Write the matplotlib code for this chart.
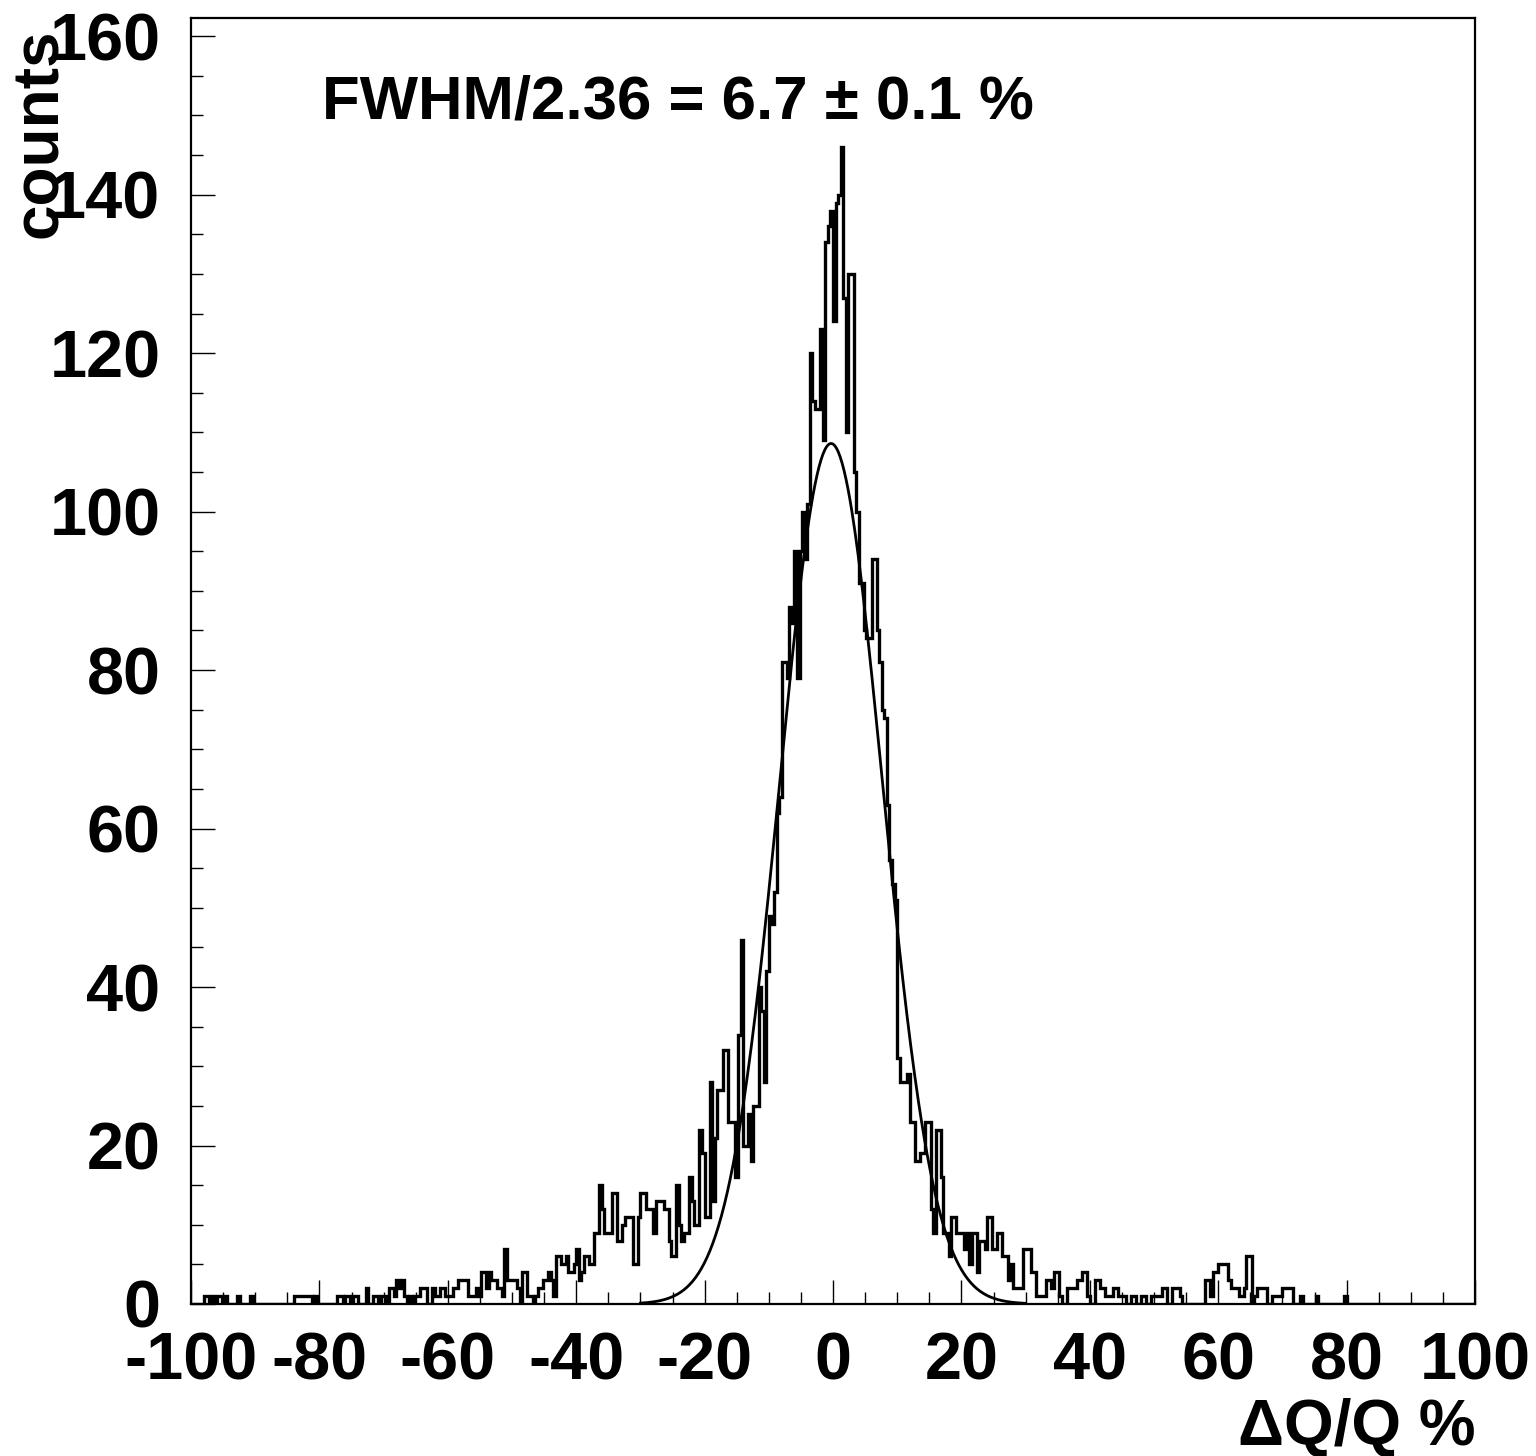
import numpy as np
import matplotlib
matplotlib.use('Agg')
from matplotlib import pyplot as plt
from matplotlib.ticker import MultipleLocator

# histogram: 500 bins from -100 to 100 (bin width 0.4)
x_min, x_max = -100., 100.
counts = [
    0, 0, 0, 0, 0, 1, 1, 0, 1, 0, 1, 1, 0, 1, 0, 0, 0, 0, 1, 0,              # 0-19
    0, 0, 0, 1, 0, 0, 0, 0, 0, 0, 0, 0, 0, 0, 0, 0, 0, 0, 0, 0,              # 20-39
    1, 1, 1, 1, 1, 1, 1, 0, 1, 0, 0, 0, 0, 0, 0, 0, 0, 1, 1, 0,              # 40-59
    1, 1, 0, 1, 1, 0, 0, 0, 2, 0, 0, 1, 1, 0, 1, 1, 0, 2, 2, 1,              # 60-79
    3, 2, 3, 1, 0, 1, 0, 1, 1, 2, 2, 2, 0, 0, 2, 1, 1, 2, 2, 1,              # 80-99
    1, 1, 2, 2, 3, 3, 3, 3, 1, 1, 1, 2, 1, 4, 4, 2, 4, 3, 3, 2,              # 100-119
    2, 1, 7, 3, 3, 3, 3, 2, 0, 4, 4, 1, 1, 0, 1, 2, 2, 3, 3, 4,              # 120-139
    3, 1, 6, 6, 5, 5, 6, 4, 4, 5, 7, 3, 4, 6, 6, 5, 5, 9, 9, 15,             # 140-159
    12, 9, 9, 9, 14, 14, 8, 8, 10, 11, 11, 11, 5, 5, 11, 14, 14, 12, 12, 12,  # 160-179
    9, 13, 13, 13, 12, 12, 8, 6, 6, 15, 10, 8, 9, 9, 16, 13, 10, 10, 22, 19,  # 180-199
    11, 11, 28, 13, 21, 27, 27, 32, 32, 23, 23, 23, 16, 34, 46, 20, 20, 24, 18, 25,  # 200-219
    25, 40, 37, 28, 42, 49, 48, 52, 62, 64, 81, 81, 79, 88, 86, 95, 79, 95, 100, 94,  # 220-239
    101, 120, 114, 113, 113, 123, 109, 134, 136, 138,
    124, 139, 140, 146, 127, 110, 130, 130, 105, 100,                       # 240-259
    91, 91, 85, 84, 84, 94, 94, 85, 81, 75, 74, 63, 56, 53, 51, 31, 28, 28, 28, 29,  # 260-279
    23, 23, 18, 18, 19, 19, 23, 23, 12, 9, 22, 22, 16, 9, 9, 6, 11, 11, 9, 9,  # 280-299
    9, 7, 9, 5, 9, 9, 4, 8, 8, 7, 11, 11, 7, 7, 9, 9, 6, 6, 3, 5,             # 300-319
    2, 2, 2, 2, 7, 7, 7, 4, 4, 1, 1, 1, 1, 3, 3, 2, 4, 4, 1, 0,              # 320-339
    0, 2, 2, 2, 2, 3, 3, 4, 4, 1, 0, 0, 3, 3, 2, 2, 1, 1, 1, 2,              # 340-359
    2, 1, 1, 1, 0, 0, 1, 1, 0, 0, 1, 1, 0, 0, 1, 1, 1, 1, 2, 2,              # 360-379
    0, 0, 2, 2, 2, 1, 0, 0, 0, 0, 0, 0, 0, 0, 0, 3, 3, 1, 4, 4,              # 380-399
    5, 5, 5, 5, 3, 2, 2, 2, 1, 1, 2, 6, 6, 0, 1, 2, 2, 2, 2, 0,              # 400-419
    0, 1, 1, 1, 1, 2, 2, 2, 2, 0, 0, 0, 1, 0, 0, 0, 0, 0, 1, 0,              # 420-439
    0, 0, 0, 0, 0, 0, 0, 0, 0, 1, 0, 0, 0, 0, 0, 0, 0, 0, 0, 0,              # 440-459
    0, 0, 0, 0, 0, 0, 0, 0, 0, 0, 0, 0, 0, 0, 0, 0, 0, 0, 0, 0,              # 460-479
    0, 0, 0, 0, 0, 0, 0, 0, 0, 0, 0, 0, 0, 0, 0, 0, 0, 0, 0, 0,              # 480-499
]

# gaussian fit parameters
fit_amp = 108.6
fit_mean = -0.3
fit_sigma = 8.0
fit_range = (-30., 30.)

xticks = [-100, -80, -60, -40, -20, 0, 20, 40, 60, 80, 100]
yticks = [0, 20, 40, 60, 80, 100, 120, 140, 160]
label_text = 'FWHM/2.36 = 6.7 \u00b1 0.1 %'

plt.rcParams['font.family'] = ['Liberation Sans', 'DejaVu Sans']
plt.rcParams['font.weight'] = 'bold'

W, H = 1536, 1456
fig = plt.figure(figsize=(W / 100., H / 100.), dpi=100)
ax = fig.add_axes([191. / W, 1 - 1304. / H, 1284. / W, 1286. / H])

edges = np.linspace(x_min, x_max, len(counts) + 1)
ax.stairs(counts, edges, color='k', lw=2.4)

xf = np.linspace(fit_range[0], fit_range[1], 400)
yf = fit_amp * np.exp(-0.5 * ((xf - fit_mean) / fit_sigma) ** 2)
ax.plot(xf, yf, color='k', lw=2.0)

ax.set_xlim(x_min, x_max)
ax.set_ylim(0, 162.3)

ax.set_xticks(xticks)
ax.set_xticklabels([str(t) for t in xticks])
ax.set_yticks(yticks)
ax.set_yticklabels([str(t) for t in yticks])
ax.xaxis.set_minor_locator(MultipleLocator(5))
ax.yaxis.set_minor_locator(MultipleLocator(5))
ax.tick_params(which='both', direction='in', top=False, right=False, width=1.0)
ax.tick_params(which='major', length=17, labelsize=48)
ax.tick_params(which='minor', length=8.5)
ax.tick_params(axis='x', which='major', pad=20)
ax.tick_params(axis='y', which='major', pad=22)
for s in ax.spines.values():
    s.set_linewidth(1.6)

fig.text(322. / W, 1 - 118. / H, label_text, ha='left', va='baseline', fontsize=44.5)
fig.text(40. / W, 1 - 28. / H, 'counts', rotation=90, ha='center', va='top', fontsize=46)
fig.text(1475. / W, 1 - 1445. / H, '\u0394Q/Q %', ha='right', va='baseline', fontsize=46)

fig.savefig('out.png', dpi=100)
